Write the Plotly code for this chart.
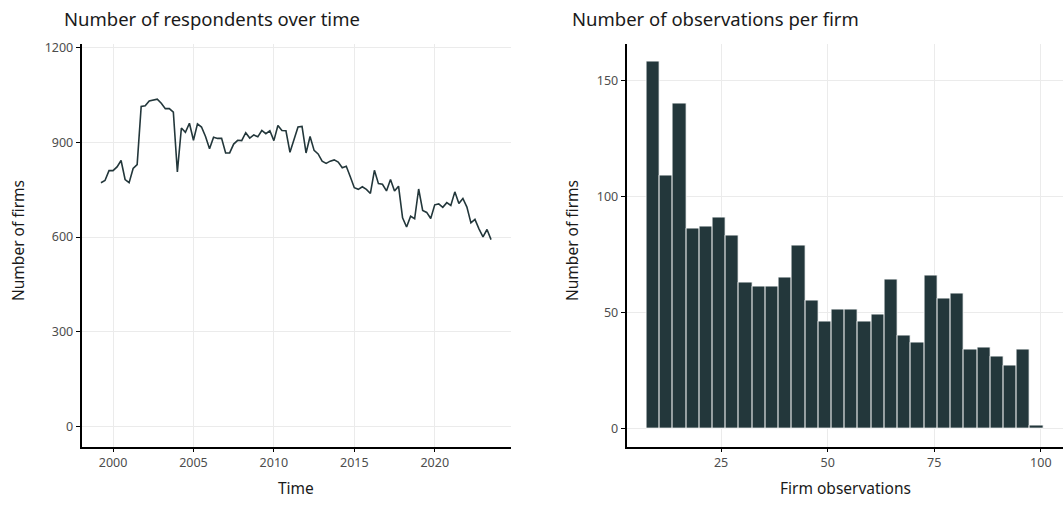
import numpy as np
import plotly.graph_objects as go

# ---- Data: left panel (quarterly number of respondents) ----
start_year = 1999.25  # 1999 Q2
respondents = [
    772, 779, 810, 810, 822, 842, 782, 772, 817, 829,
    1013, 1015, 1030, 1034, 1036, 1023, 1006, 1006, 995, 806,
    945, 931, 960, 906, 958, 948, 918, 879, 916, 912,
    912, 866, 866, 894, 906, 905, 930, 913, 923, 917,
    937, 927, 936, 905, 953, 937, 936, 868, 908, 948,
    950, 866, 918, 874, 863, 840, 833, 840, 844, 837,
    819, 824, 791, 756, 751, 759, 751, 738, 811, 769,
    767, 746, 782, 746, 761, 661, 632, 666, 658, 752,
    684, 678, 659, 702, 705, 694, 709, 700, 743, 706,
    722, 695, 645, 656, 626, 601, 624, 592,
]
time = [start_year + 0.25 * i for i in range(len(respondents))]

# ---- Data: right panel (histogram of firm observations, 30 bins) ----
obs_min, obs_max = 9, 99
bin_counts = [
    158, 109, 140, 86, 87, 91, 83, 63, 61, 61,
    65, 79, 55, 46, 51, 51, 46, 49, 64, 40,
    37, 66, 56, 58, 34, 35, 31, 27, 34, 1,
]
n_bins = len(bin_counts)
bin_width = (obs_max - obs_min) / (n_bins - 1)
bin_centers = list(np.linspace(obs_min, obs_max, n_bins))

left_ticks = [2000, 2005, 2010, 2015, 2020]
left_yticks = [0, 300, 600, 900, 1200]
right_xticks = [25, 50, 75, 100]
right_yticks = [0, 50, 100, 150]

# ---- Styling ----
W, H = 1063, 505
DARK = "#23373b"
GRID = "#ebebeb"
FONT = "Noto Sans"
TICKFONT = dict(family=FONT, size=12.5, color="#4d4d4d")

fig = go.Figure()
fig.add_trace(go.Scatter(x=time, y=respondents, mode="lines",
                         line=dict(color=DARK, width=1.6),
                         xaxis="x", yaxis="y", showlegend=False))
fig.add_trace(go.Bar(x=bin_centers, y=bin_counts, width=bin_width,
                     marker=dict(color=DARK, line=dict(color="white", width=0.8)),
                     xaxis="x2", yaxis="y2", showlegend=False))

def px_x(p):
    return p / W

def px_y(p):
    return 1 - p / H

ydom = [px_y(446.5), px_y(43.5)]
axis_common = dict(showgrid=True, gridcolor=GRID, gridwidth=1,
                   showline=True, linecolor="black", linewidth=1.5,
                   ticks="outside", ticklen=4, tickwidth=1.2, tickcolor="black",
                   zeroline=False, tickfont=TICKFONT, fixedrange=True,
                   automargin=False)

fig.update_layout(
    template="none",
    width=W, height=H,
    margin=dict(l=0, r=0, t=0, b=0, pad=0, autoexpand=False),
    plot_bgcolor="white", paper_bgcolor="white",
    bargap=0,
    xaxis=dict(domain=[px_x(81.5), px_x(510.5)], range=[1998.04, 2024.71],
               tickvals=left_ticks, anchor="y", **axis_common),
    yaxis=dict(domain=ydom, range=[-62, 1212], tickvals=left_yticks,
               anchor="x", **axis_common),
    xaxis2=dict(domain=[px_x(626.5), 1.0], range=[2.8, 105.2],
                tickvals=right_xticks, anchor="y2", **axis_common),
    yaxis2=dict(domain=ydom, range=[-7.9, 165.9], tickvals=right_yticks,
                anchor="x2", **axis_common),
)

TITLE_FONT = dict(family=FONT, size=18.5, color="#1a1a1a")
LABEL_FONT = dict(family=FONT, size=15.5, color="#1a1a1a")
ann = [
    dict(text="Number of respondents over time", x=px_x(62), y=px_y(18),
         xanchor="left", yanchor="middle", font=TITLE_FONT),
    dict(text="Number of observations per firm", x=px_x(570), y=px_y(18),
         xanchor="left", yanchor="middle", font=TITLE_FONT),
    dict(text="Time", x=px_x(296), y=px_y(488), xanchor="center",
         yanchor="middle", font=LABEL_FONT),
    dict(text="Firm observations", x=px_x(845), y=px_y(488), xanchor="center",
         yanchor="middle", font=LABEL_FONT),
    dict(text="Number of firms", x=px_x(18), y=px_y(241), xanchor="center",
         yanchor="middle", textangle=-90, font=LABEL_FONT),
    dict(text="Number of firms", x=px_x(572), y=px_y(241), xanchor="center",
         yanchor="middle", textangle=-90, font=LABEL_FONT),
]
for a in ann:
    a.update(xref="paper", yref="paper", showarrow=False)
fig.update_layout(annotations=ann)

fig.write_html("out.html", config={"displayModeBar": False},
               post_script="document.body.style.margin='0px';")
